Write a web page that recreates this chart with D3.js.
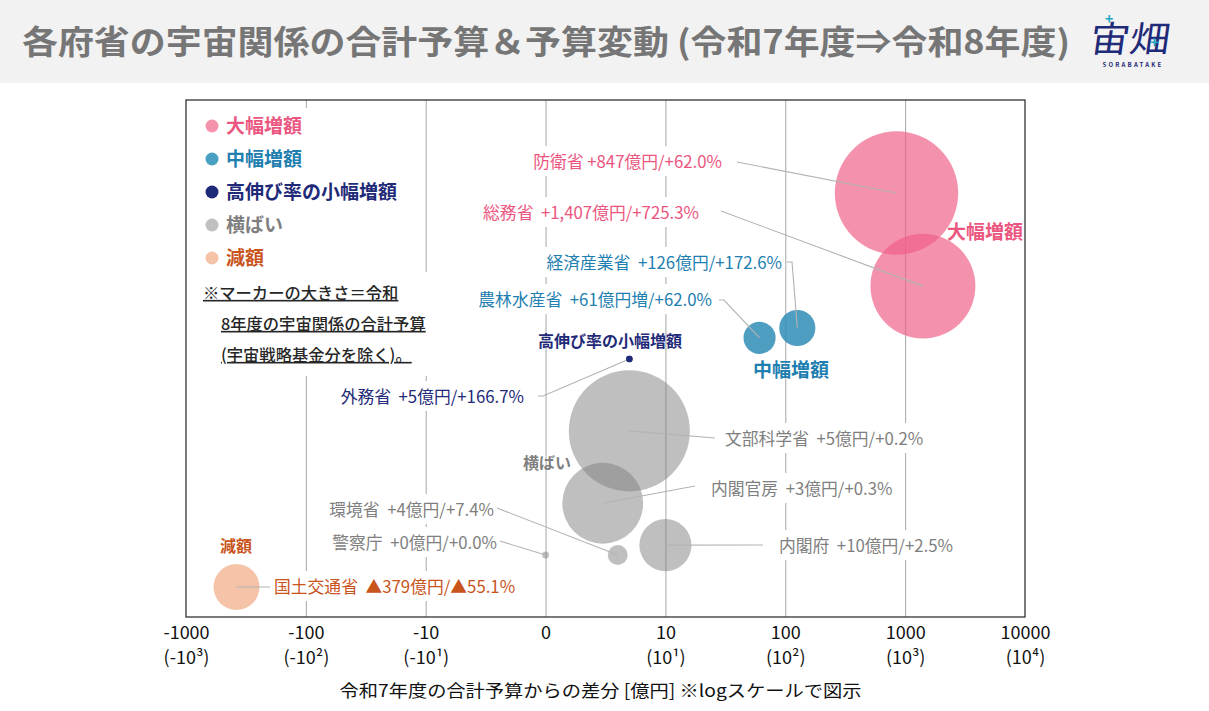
<!DOCTYPE html>
<html>
<head>
<meta charset="utf-8">
<script src="https://cdn.jsdelivr.net/npm/d3@7"></script>
<style>
  body { margin: 0; background: #fff; }
  svg { display: block; font-family: "Noto Sans CJK JP", "Noto Sans", sans-serif; }
  text { white-space: pre; }
</style>
</head>
<body>
<svg id="chart" width="1209" height="711"></svg>
<script>
// ministries, change vs previous year [億円], FY8 budget [億円] (bubble size)
const ministries = ["防衛省", "総務省", "経済産業省", "農林水産省", "外務省", "文部科学省", "内閣官房", "内閣府", "環境省", "警察庁", "国土交通省"];
const diffOku = [847, 1407, 126, 61, 5, 5, 3, 10, 4, 0, -379];
const budgetR8 = [2213, 1601, 190, 150, 6, 2130, 950, 395, 58, 7, 307];
const groupOf = ["大幅増額", "大幅増額", "中幅増額", "中幅増額", "高伸び率の小幅増額", "横ばい", "横ばい", "横ばい", "横ばい", "横ばい", "減額"];
// vertical placement only (no meaning), 0..10
const rowPos = [8.2, 6.4, 5.59, 5.4, 4.99, 3.6, 2.2, 1.39, 1.2, 1.2, 0.58];
const labelTexts = [
  "防衛省 +847億円/+62.0%",
  "総務省  +1,407億円/+725.3%",
  "経済産業省  +126億円/+172.6%",
  "農林水産省  +61億円増/+62.0%",
  "外務省  +5億円/+166.7%",
  "文部科学省  +5億円/+0.2%",
  "内閣官房  +3億円/+0.3%",
  "内閣府  +10億円/+2.5%",
  "環境省  +4億円/+7.4%",
  "警察庁  +0億円/+0.0%",
  "国土交通省  ▲379億円/▲55.1%"
];

const groupNames = ["大幅増額", "中幅増額", "高伸び率の小幅増額", "横ばい", "減額"];
const tickVals = [-1000, -100, -10, 0, 10, 100, 1000, 10000];
const tickSub = ["(-10³)", "(-10²)", "(-10¹)", "", "(10¹)", "(10²)", "(10³)", "(10⁴)"];

const title = "各府省の宇宙関係の合計予算＆予算変動 (令和7年度⇒令和8年度)";
const xTitle = "令和7年度の合計予算からの差分 [億円] ※logスケールで図示";
const noteLines = ["※マーカーの大きさ＝令和", "8年度の宇宙関係の合計予算", "(宇宙戦略基金分を除く)。"];

// styles
const bubbleFill = {"大幅増額": "#ef5f88", "中幅増額": "#2f8db6", "高伸び率の小幅増額": "#1f2a78", "横ばい": "#808080", "減額": "#f5c3a8"};
const bubbleOpacity = {"大幅増額": 0.68, "中幅増額": 0.85, "高伸び率の小幅増額": 1, "横ばい": 0.5, "減額": 1};
const legendDot = {"大幅増額": "#f493ab", "中幅増額": "#4aa0c2", "高伸び率の小幅増額": "#1f2a78", "横ばい": "#c0c0c0", "減額": "#f5c3a8"};
const textColor = {"大幅増額": "#eb5680", "中幅増額": "#1f7fb0", "高伸び率の小幅増額": "#1f2a78", "横ばい": "#7f7f7f", "減額": "#c9541c"};

// label layout: anchor point + leader start points
const labelLayout = [
  {x: 722, y: 162, a: "end", lead: [[737, 162]]},
  {x: 699, y: 213, a: "end", lead: [[721, 211]]},
  {x: 782, y: 263, a: "end", lead: [[787, 262], [792, 262]]},
  {x: 712, y: 300, a: "end", lead: [[719, 300], [724, 300]]},
  {x: 524, y: 397, a: "end", lead: [[538, 396], [543, 396]]},
  {x: 725, y: 439, a: "start", lead: [[715, 438]]},
  {x: 711, y: 489, a: "start", lead: [[695, 486]]},
  {x: 779, y: 546, a: "start", lead: [[763, 545]]},
  {x: 494, y: 510, a: "end", lead: [[497, 508]]},
  {x: 497, y: 543, a: "end", lead: [[500, 541]]},
  {x: 274, y: 587, a: "start", lead: [[270, 587]]}
];
const groupLabelLayout = {
  "大幅増額": {x: 985, y: 232, size: 19},
  "中幅増額": {x: 791, y: 370, size: 19},
  "高伸び率の小幅増額": {x: 610, y: 341, size: 16},
  "横ばい": {x: 547, y: 463, size: 16},
  "減額": {x: 236, y: 546, size: 16}
};

const W = 1209, H = 711;
const plot = {left: 186, right: 1025, top: 100, bottom: 617};

const svg = d3.select("#chart");

// header
svg.append("rect").attr("x", 0).attr("y", 0).attr("width", W).attr("height", 83).attr("fill", "#f2f2f2");
svg.append("text")
  .attr("x", 22).attr("y", 54)
  .attr("font-size", 33).attr("font-weight", 700).attr("fill", "#767676")
  .attr("textLength", 1048).attr("lengthAdjust", "spacingAndGlyphs")
  .text(title);

// logo
const logo = svg.append("g").attr("transform", "translate(1093,18)");
logo.append("text").attr("x", 0).attr("y", 34).attr("font-size", 36).attr("fill", "#1f2a78")
  .attr("transform", "skewX(-8)").attr("font-weight", 400).attr("textLength", 80).attr("lengthAdjust", "spacingAndGlyphs")
  .text("宙畑");
logo.append("text").attr("x", 12).attr("y", 6).attr("font-size", 14).attr("font-weight", 700).attr("fill", "#1aa6c8").text("+");
logo.append("text").attr("x", 57).attr("y", 30).attr("font-size", 15).attr("font-weight", 700).attr("fill", "#1aa6c8").text("+");
logo.append("text").attr("x", 40).attr("y", 49).attr("text-anchor", "middle").attr("font-size", 6).attr("font-weight", 700)
  .attr("letter-spacing", 2.2).attr("fill", "#1f2a78").text("SORABATAKE");

// scales
const lg = v => v === 0 ? 0 : Math.sign(v) * Math.log10(Math.abs(v));
const x = d3.scaleLinear().domain([-3, 4]).range([plot.left, plot.right]);
const y = d3.scaleLinear().domain([0, 10]).range([plot.bottom, plot.top]);
const r = d3.scaleSqrt().domain([0, 2213]).range([0, 61.7]);

const data = ministries.map((m, i) => ({
  name: m, diff: diffOku[i], budget: budgetR8[i], group: groupOf[i], row: rowPos[i], label: labelTexts[i], lay: labelLayout[i]
}));

// plot background + grid
svg.append("rect").attr("x", plot.left).attr("y", plot.top)
  .attr("width", plot.right - plot.left).attr("height", plot.bottom - plot.top).attr("fill", "#fff");

const grid = svg.append("g").attr("transform", `translate(0,${plot.bottom})`)
  .call(d3.axisBottom(x).tickValues(tickVals.slice(1, -1).map(lg)).tickSize(-(plot.bottom - plot.top)).tickFormat(""));
grid.select(".domain").remove();
grid.selectAll(".tick line").attr("stroke", "#a6a6a6").attr("stroke-width", 1);

// white boxes for legend and note
svg.append("rect").attr("x", plot.left + 1).attr("y", 108).attr("width", 236).attr("height", 164).attr("fill", "#fff");
svg.append("rect").attr("x", plot.left + 1).attr("y", 272).attr("width", 272).attr("height", 104).attr("fill", "#fff");

// bubbles
svg.append("g").selectAll("circle")
  .data(data).join("circle")
  .attr("cx", d => x(lg(d.diff)))
  .attr("cy", d => y(d.row))
  .attr("r", d => r(d.budget))
  .attr("fill", d => bubbleFill[d.group])
  .attr("fill-opacity", d => bubbleOpacity[d.group]);

// labels with white backing
const lab = svg.append("g");
const labG = lab.selectAll("g").data(data).join("g");
labG.append("rect").attr("class", "bg");
labG.append("text")
  .attr("x", d => d.lay.x).attr("y", d => d.lay.y)
  .attr("dy", "0.36em")
  .attr("text-anchor", d => d.lay.a)
  .attr("font-size", 16.8)
  .attr("fill", d => textColor[d.group])
  .text(d => d.label);
labG.each(function () {
  const g = d3.select(this);
  const b = g.select("text").node().getBBox();
  g.select("rect.bg").attr("x", b.x - 3).attr("y", b.y - 3).attr("width", b.width + 6).attr("height", b.height + 6).attr("fill", "#fff");
});

// leader lines
svg.append("g").selectAll("path")
  .data(data).join("path")
  .attr("d", d => d3.line()([...d.lay.lead, [x(lg(d.diff)), y(d.row)]]))
  .attr("fill", "none").attr("stroke", "#b3b3b3").attr("stroke-width", 1.1);

// redraw tiny navy dot over its leader
svg.append("g").selectAll("circle")
  .data(data.filter(d => d.group === "高伸び率の小幅増額")).join("circle")
  .attr("cx", d => x(lg(d.diff))).attr("cy", d => y(d.row)).attr("r", d => r(d.budget))
  .attr("fill", d => bubbleFill[d.group]);

// group labels
svg.append("g").selectAll("text")
  .data(groupNames).join("text")
  .attr("x", g => groupLabelLayout[g].x).attr("y", g => groupLabelLayout[g].y)
  .attr("dy", "0.36em").attr("text-anchor", "middle")
  .attr("font-size", g => groupLabelLayout[g].size).attr("font-weight", 700)
  .attr("fill", g => textColor[g])
  .text(g => g);

// legend
const leg = svg.append("g").selectAll("g").data(groupNames).join("g")
  .attr("transform", (g, i) => `translate(212,${126 + i * 33})`);
leg.append("circle").attr("r", 6.5).attr("fill", g => legendDot[g]);
leg.append("text").attr("x", 14).attr("dy", "0.36em").attr("font-size", 19).attr("font-weight", 700)
  .attr("fill", g => textColor[g]).text(g => g);

// note
svg.append("g").selectAll("text").data(noteLines).join("text")
  .attr("x", (t, i) => i === 0 ? 203 : 221)
  .attr("y", (t, i) => 293 + i * 31)
  .attr("dy", "0.36em")
  .attr("font-size", 16.3).attr("font-weight", 500).attr("fill", "#262626")
  .attr("text-decoration", "underline")
  .text(t => t);

// frame
svg.append("rect").attr("x", plot.left).attr("y", plot.top)
  .attr("width", plot.right - plot.left).attr("height", plot.bottom - plot.top)
  .attr("fill", "none").attr("stroke", "#333").attr("stroke-width", 1.3);

// x axis labels
const ax = svg.append("g").attr("transform", `translate(0,${plot.bottom})`)
  .call(d3.axisBottom(x).tickValues(tickVals.map(lg)).tickSize(0).tickPadding(0).tickFormat((d, i) => tickVals[i]));
ax.select(".domain").remove();
ax.selectAll(".tick text")
  .attr("font-family", "'Noto Sans CJK JP', sans-serif")
  .attr("font-size", 18).attr("fill", "#111")
  .attr("y", 22).attr("dy", 0);
ax.selectAll(".tick").append("text")
  .attr("font-family", "'Noto Sans CJK JP', sans-serif")
  .attr("font-size", 18).attr("fill", "#111").attr("text-anchor", "middle")
  .attr("y", 47)
  .text((d, i) => tickSub[i]);

svg.append("text").attr("x", (plot.left + plot.right) / 2 - 5).attr("y", 697)
  .attr("text-anchor", "middle").attr("font-size", 17).attr("fill", "#111")
  .attr("textLength", 522).attr("lengthAdjust", "spacingAndGlyphs")
  .text(xTitle);
</script>
</body>
</html>
